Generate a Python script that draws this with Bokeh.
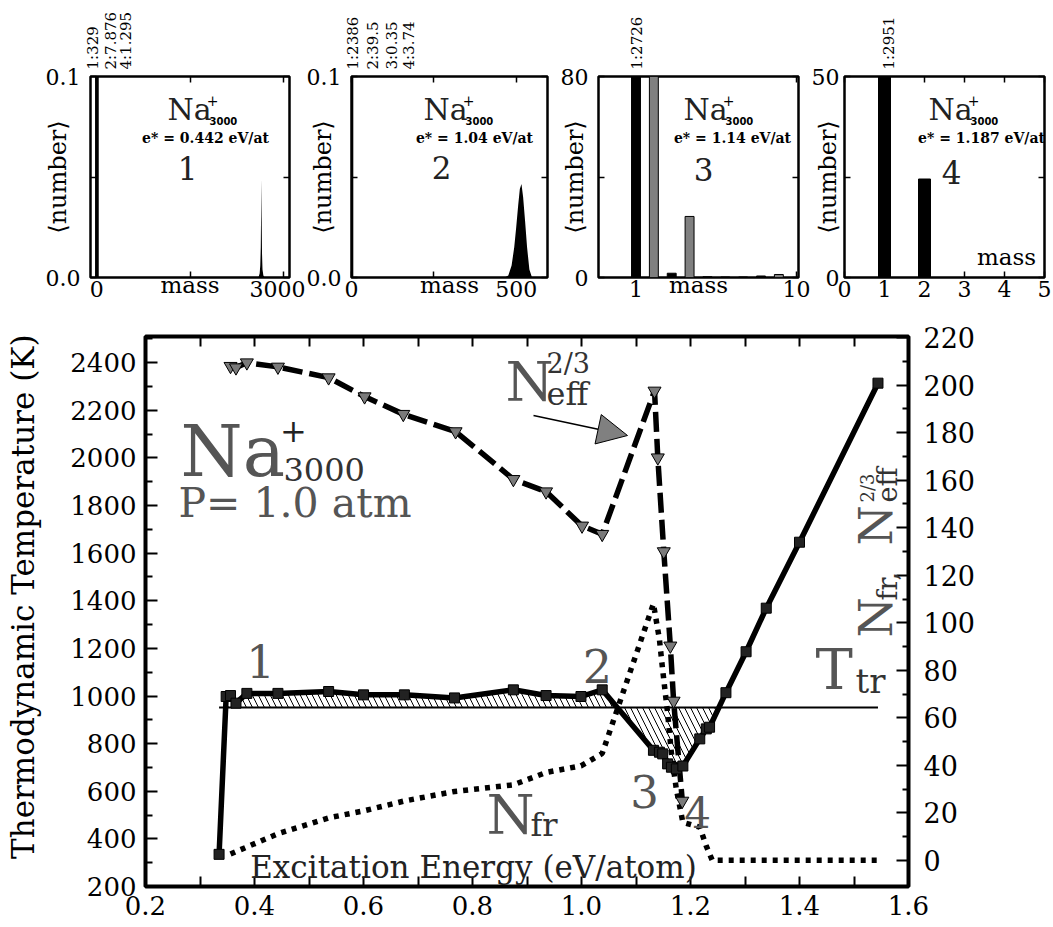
import math
import numpy as np
from bokeh.plotting import figure
from bokeh.models import Range1d, LinearAxis, FixedTicker, Label, Arrow, NormalHead, PrintfTickFormatter
from bokeh.layouts import row, column
from bokeh.embed import file_html
from bokeh.resources import INLINE

SERIF = "DejaVu Serif"

# ================= DATA =================
# main panel: thermodynamic temperature vs excitation energy
energy_T = [0.335, 0.348, 0.356, 0.366, 0.386, 0.443, 0.536, 0.600, 0.675, 0.767,
            0.875, 0.935, 0.999, 1.038, 1.132, 1.143, 1.149, 1.158, 1.165, 1.174,
            1.186, 1.217, 1.229, 1.235, 1.265, 1.302, 1.339, 1.400, 1.544]
temperature = [335, 998, 1002, 970, 1011, 1011, 1019, 1005, 1005, 992,
               1026, 1002, 998, 1026, 772, 764, 757, 715, 701, 694,
               706, 820, 862, 869, 1014, 1186, 1369, 1646, 2314]
T_transition = 952

# N_eff^(2/3) (right axis)
energy_neff = [0.356, 0.366, 0.386, 0.443, 0.536, 0.602, 0.673, 0.769, 0.875, 0.935,
               1.001, 1.038, 1.134, 1.140, 1.151, 1.163, 1.169, 1.185]
neff_23 = [208, 207.4, 209.5, 207.7, 203.2, 195.2, 187.8, 180.5, 160.4, 155.2,
           140.8, 137.3, 197.6, 169.5, 130, 90.3, 67.1, 25]

# N_fr (right axis)
energy_nfr = [0.356, 0.443, 0.536, 0.600, 0.675, 0.767, 0.875, 0.935, 0.999, 1.038,
              1.132, 1.143, 1.149, 1.158, 1.165, 1.174, 1.186, 1.217, 1.229, 1.240,
              1.265, 1.302, 1.339, 1.400, 1.544]
n_fr = [2.7, 11.2, 17.9, 20.8, 25.0, 29.0, 31.8, 37.0, 39.8, 45.0,
        108.0, 93.0, 80.0, 62.0, 45.0, 30.0, 16.0, 14.0, 6.0, 0.0,
        0.0, 0.0, 0.0, 0.0, 0.0]

# panel 1 (e* = 0.442)
p1_small_mass = [1, 2, 4]
p1_small_number = [329, 7.876, 1.295]
p1_small_labels = ["1:329", "2:7.876", "4:1.295"]
p1_peak_mass = [2600, 2620, 2630, 2638, 2644, 2648, 2652, 2658, 2666, 2680, 2700]
p1_peak_number = [0, 0.002, 0.006, 0.015, 0.035, 0.049, 0.030, 0.012, 0.004, 0.001, 0]

# panel 2 (e* = 1.04)
p2_small_mass = [1, 2, 3, 4]
p2_small_number = [2386, 39.5, 0.35, 3.74]
p2_small_labels = ["1:2386", "2:39.5", "3:0.35", "4:3.74"]
p2_peak_mass = [465, 476, 486, 494, 500, 506, 511, 516, 521, 527, 533, 540, 548]
p2_peak_number = [0, 0.001, 0.006, 0.015, 0.025, 0.036, 0.044, 0.0465, 0.040, 0.028, 0.015, 0.004, 0]

# panel 3 (e* = 1.14)
p3_black_mass = [1, 3, 5, 6, 7, 8]
p3_black_number = [2726, 1.7, 0.3, 0.2, 0.2, 0.6]
p3_gray_mass = [2, 4, 9]
p3_gray_number = [90, 24.3, 1.2]
p3_labels = ["1:2726"]

# panel 4 (e* = 1.187)
p4_mass = [1, 2]
p4_number = [2951, 24.5]
p4_labels = ["1:2951"]

panel_energy = ["0.442", "1.04", "1.14", "1.187"]

# ================= HELPERS =================
def to_data(box, rng, xp, yp):
    l, t, r, b = box
    x0, x1, y0, y1 = rng
    return x0 + (xp - l) / (r - l) * (x1 - x0), y0 + (b - yp) / (b - t) * (y1 - y0)


def add_text(p, box, rng, xp, yp, text, size, color="black", align="left",
             baseline="alphabetic", angle=0.0, font=SERIF, style="normal"):
    if baseline == "alphabetic":
        # place by the middle of the font box (baseline - 0.345 em)
        if angle == 0:
            yp = yp - 0.345 * size
        else:
            xp = xp - 0.345 * size
        baseline = "middle"
    x, y = to_data(box, rng, xp, yp)
    p.add_layout(Label(x=x, y=y, text=text, text_font=font, text_font_size=f"{size}px",
                       text_color=color, text_align=align, text_baseline=baseline,
                       angle=angle, text_font_style=style))


def style_axis(ax, tick_in, minor_in, size, standoff, labels=True, lw=1.5):
    ax.axis_line_color = None
    ax.major_tick_in = tick_in
    ax.major_tick_out = 0
    ax.minor_tick_in = minor_in
    ax.minor_tick_out = 0
    ax.major_tick_line_width = lw
    ax.minor_tick_line_width = lw
    ax.major_label_text_font = SERIF
    ax.axis_label_text_font = SERIF
    ax.axis_label_text_font_style = "normal"
    ax.axis_label_text_color = "black"
    if labels:
        ax.major_label_text_color = "black"
        ax.major_label_text_font_size = f"{size}px"
        ax.major_label_standoff = standoff
    else:
        ax.major_label_text_color = None
        ax.major_label_text_font_size = "1px"
        ax.major_label_standoff = 0


def make_panel(xr, yr, fw, bl, br, win_left, xt, xm, yt, ym, ylab_standoff, xlabel,
               top_px, top_texts, yfmt=None, ytick_standoff=10):
    p = figure(frame_width=fw, frame_height=201, x_range=Range1d(*xr), y_range=Range1d(*yr),
               min_border_left=bl, min_border_right=br, min_border_top=76, min_border_bottom=29,
               output_backend="svg", toolbar_location=None, tools="")
    p.grid.visible = False
    p.outline_line_color = "black"
    p.outline_line_width = 2.5
    p.outline_line_alpha = 1.0
    p.xaxis.ticker = FixedTicker(ticks=xt, minor_ticks=xm)
    p.yaxis.ticker = FixedTicker(ticks=yt, minor_ticks=ym)
    if yfmt:
        p.yaxis.formatter = PrintfTickFormatter(format=yfmt)
    xa, ya = p.xaxis[0], p.yaxis[0]
    style_axis(xa, 6, 6, 22, 3)
    style_axis(ya, 6, 6, 22, ytick_standoff)
    ya.axis_label = "\u27e8number\u27e9"
    ya.axis_label_text_font_size = "24px"
    ya.axis_label_standoff = ylab_standoff
    if xlabel:
        xa.axis_label = "mass"
        xa.axis_label_text_font_size = "23px"
        xa.axis_label_standoff = -28
    top = LinearAxis(ticker=FixedTicker(ticks=xt, minor_ticks=xm))
    style_axis(top, 6, 6, 0, 0, labels=False)
    p.add_layout(top, "above")
    right = LinearAxis(ticker=FixedTicker(ticks=yt, minor_ticks=ym))
    style_axis(right, 6, 6, 0, 0, labels=False)
    p.add_layout(right, "right")
    # rotated count labels above the frame (an extra axis whose tick labels are the counts)
    pos = [round(xr[0] + (xp + 3 - win_left) / fw * (xr[1] - xr[0]), 3) for xp in top_px]
    lab_ax = LinearAxis(ticker=FixedTicker(ticks=pos, minor_ticks=[]),
                        major_label_overrides={k: t for k, t in zip(pos, top_texts)})
    lab_ax.axis_line_color = None
    lab_ax.major_tick_in = 0
    lab_ax.major_tick_out = 0
    lab_ax.major_label_orientation = math.pi / 2
    lab_ax.major_label_text_font = SERIF
    lab_ax.major_label_text_font_size = "15px"
    lab_ax.major_label_text_color = "black"
    lab_ax.major_label_standoff = 7
    p.add_layout(lab_ax, "above")
    return p


def panel_texts(p, box, rng, na_left, e_center, num_center, number, energy):
    add_text(p, box, rng, na_left, 119, "Na", 30, "#222222")
    add_text(p, box, rng, na_left + 45, 100, "+", 14, "black", align="center", baseline="middle")
    add_text(p, box, rng, na_left + 42, 124, "3000", 10, "black", font="DejaVu Sans", style="bold")
    add_text(p, box, rng, e_center, 137, f"e* = {energy} eV/at", 14, "black",
             align="center", baseline="middle", style="bold")
    add_text(p, box, rng, num_center[0], num_center[1], number, 31, "#222222",
             align="center", baseline="middle")


# ================= PANEL 1 =================
b1 = (90, 76, 289, 277)
r1 = (-100, 3100, 0, 0.1)
f1 = make_panel((-100, 3100), (0, 0.1), 199, 90, 16, 90, [0, 3000], [1500], [0, 0.1], [0.05],
                -29, True, [90, 107, 123], p1_small_labels, "%.1f")
f1.vbar(x=p1_small_mass, top=p1_small_number, width=48, bottom=0, fill_color="black", line_color=None)
f1.varea(x=p1_peak_mass, y1=0, y2=p1_peak_number, fill_color="black")
panel_texts(f1, b1, r1, 167, 205, (187, 168), "1", panel_energy[0])

# ================= PANEL 2 =================
b2 = (350, 76, 546, 277)
r2 = (0, 595, 0, 0.1)
f2 = make_panel((0, 595), (0, 0.1), 196, 45, 2, 350, [0, 500], [250], [0, 0.1], [0.05],
                -33, True, [349, 368, 387, 405], p2_small_labels, "%.1f")
f2.vbar(x=p2_small_mass, top=p2_small_number, width=3, bottom=0, fill_color="black", line_color=None)
f2.varea(x=p2_peak_mass, y1=0, y2=p2_peak_number, fill_color="black")
panel_texts(f2, b2, r2, 422, 473, (440, 167), "2", panel_energy[1])

# ================= PANEL 3 =================
b3 = (597, 76, 797, 277)
r3 = (-1.1, 10.1, 0, 80)
f3 = make_panel((-1.1, 10.1), (0, 80), 200, 49, 12, 597, [1, 10], [], [0, 80], [40],
                -31, True, [632], p3_labels)
f3.vbar(x=p3_black_mass, top=p3_black_number, width=0.5, bottom=0, fill_color="black", line_color="black")
f3.vbar(x=p3_gray_mass, top=p3_gray_number, width=0.5, bottom=0, fill_color="#808080", line_color="black")
panel_texts(f3, b3, r3, 682, 731, (702, 169), "3", panel_energy[2])

# ================= PANEL 4 =================
b4 = (843, 76, 1043, 277)
r4 = (0, 5, 0, 50)
f4 = make_panel((0, 5), (0, 50), 200, 34, 8, 843, [0, 1, 2, 3, 4, 5], [], [0, 50], [25],
                -33, False, [884], p4_labels, ytick_standoff=5)
f4.vbar(x=p4_mass, top=p4_number, width=0.3, bottom=0, fill_color="black", line_color="black")
panel_texts(f4, b4, r4, 927, 980, (950, 172), "4", panel_energy[3])
add_text(f4, b4, r4, 1005, 256, "mass", 23, "black", align="center", baseline="middle")

# ================= MAIN PLOT =================
bm = (145, 336, 908, 886)
rm = (0.2, 1.6, 200, 2510)
main = figure(frame_width=763, frame_height=550, x_range=Range1d(0.2, 1.6), y_range=Range1d(200, 2510),
              min_border_left=145, min_border_right=137, min_border_top=30, min_border_bottom=40,
              output_backend="svg", toolbar_location=None, tools="")
main.extra_y_ranges = {"n": Range1d(-11, 220.5)}
main.grid.visible = False
main.outline_line_color = "black"
main.outline_line_width = 4
main.outline_line_alpha = 1.0

xt_major = [0.2, 0.4, 0.6, 0.8, 1.0, 1.2, 1.4, 1.6]
xt_minor = [0.3, 0.5, 0.7, 0.9, 1.1, 1.3, 1.5]
main.xaxis.ticker = FixedTicker(ticks=xt_major, minor_ticks=xt_minor)
main.xaxis.formatter = PrintfTickFormatter(format="%.1f")
style_axis(main.xaxis[0], 10, 10, 26, 9, lw=2)
main.yaxis.ticker = FixedTicker(ticks=list(range(200, 2401, 200)), minor_ticks=list(range(300, 2501, 200)))
style_axis(main.yaxis[0], 12, 7, 26, 9, lw=2)
main.yaxis[0].axis_label = "\u00a0" * 3 + "Thermodynamic Temperature (K)"
main.yaxis[0].axis_label_text_font_size = "31px"
main.yaxis[0].axis_label_standoff = 26

top_ax = LinearAxis(ticker=FixedTicker(ticks=xt_major, minor_ticks=xt_minor))
style_axis(top_ax, 10, 10, 0, 0, labels=False, lw=2)
main.add_layout(top_ax, "above")
right_ax = LinearAxis(y_range_name="n", ticker=FixedTicker(ticks=list(range(0, 221, 20)),
                                                            minor_ticks=list(range(10, 211, 20))))
style_axis(right_ax, 12, 6, 27, 15, lw=2)
main.add_layout(right_ax, "right")

# hatched region between T curve and transition temperature
xa = np.array(energy_T, dtype=float)
ta = np.array(temperature, dtype=float)
d = ta - T_transition
cross = [xa[k] + (T_transition - ta[k]) / (ta[k + 1] - ta[k]) * (xa[k + 1] - xa[k])
         for k in range(len(xa) - 1) if d[k] * d[k + 1] < 0]
x_lo, x_hi = cross[0], cross[-1]
inner = (xa > x_lo) & (xa < x_hi)
hx = np.concatenate([[x_lo], xa[inner], [x_hi]])
ht = np.concatenate([[T_transition], ta[inner], [T_transition]])
main.varea(x=hx, y1=T_transition, y2=ht, fill_alpha=0, hatch_pattern="\\", hatch_scale=12,
           hatch_color="black", hatch_weight=1)

main.line(x=[energy_T[0], energy_T[-1]], y=[T_transition, T_transition], line_color="black", line_width=2)

main.line(x=energy_nfr, y=n_fr, y_range_name="n", line_color="black", line_width=5.5,
          line_dash="5 6")
main.line(x=energy_neff, y=neff_23, y_range_name="n", line_color="black", line_width=5.5,
          line_dash="20 7")
main.scatter(x=energy_neff, y=neff_23, y_range_name="n", marker="inverted_triangle", size=13,
             fill_color="#7a7a7a", line_color="black", line_width=1)
main.line(x=energy_T, y=temperature, line_color="black", line_width=5.5)
main.scatter(x=energy_T, y=temperature, marker="square", size=10, fill_color="#222222",
             line_color="black", line_width=1)

# annotations in main plot
add_text(main, bm, rm, 180, 475, "Na", 71, "#555555")
add_text(main, bm, rm, 293, 430, "+", 32, "#222222", align="center", baseline="middle")
add_text(main, bm, rm, 283, 480, "3000", 32, "#333333")
add_text(main, bm, rm, 178, 517, "P= 1.0 atm", 41, "#555555")

add_text(main, bm, rm, 505, 400, "N", 55, "#555555")
add_text(main, bm, rm, 546, 405, "eff", 32, "#333333")
add_text(main, bm, rm, 546, 372, "2/3", 27, "#333333")

ax0, ay0 = to_data(bm, rm, 533, 415)
ax1, ay1 = to_data(bm, rm, 627, 435)
main.add_layout(Arrow(end=NormalHead(size=30, fill_color="#808080", line_color="black", line_width=1),
                      x_start=ax0, y_start=ay0, x_end=ax1, y_end=ay1,
                      line_color="black", line_width=1.5))

add_text(main, bm, rm, 260, 661, "1", 45, "#555555", align="center", baseline="middle")
add_text(main, bm, rm, 597, 665, "2", 46, "#555555", align="center", baseline="middle")
add_text(main, bm, rm, 644, 791, "3", 45, "#555555", align="center", baseline="middle")
add_text(main, bm, rm, 697, 812, "4", 42, "#555555", align="center", baseline="middle")

add_text(main, bm, rm, 486, 833, "N", 55, "#555555")
add_text(main, bm, rm, 530, 836, "fr", 32, "#333333")

add_text(main, bm, rm, 815, 688, "T", 56, "#555555")
add_text(main, bm, rm, 855, 692, "tr", 34, "#333333")

# rotated right-hand label N_fr, N_eff^(2/3)
add_text(main, bm, rm, 891, 637, "N", 46, "#555555", angle=math.pi / 2)
add_text(main, bm, rm, 896, 600, "fr,", 27, "#333333", angle=math.pi / 2)
add_text(main, bm, rm, 891, 545, "N", 46, "#555555", angle=math.pi / 2)
add_text(main, bm, rm, 896, 502, "eff", 27, "#333333", angle=math.pi / 2)
add_text(main, bm, rm, 873, 502, "2/3", 18, "#333333", angle=math.pi / 2)

add_text(main, bm, rm, 473, 877, "Excitation Energy (eV/atom)", 31, "#222222", align="center")

layout = column(row(f1, f2, f3, f4, spacing=0), main, spacing=0)

with open("out.html", "w") as fh:
    fh.write(file_html(layout, INLINE))
